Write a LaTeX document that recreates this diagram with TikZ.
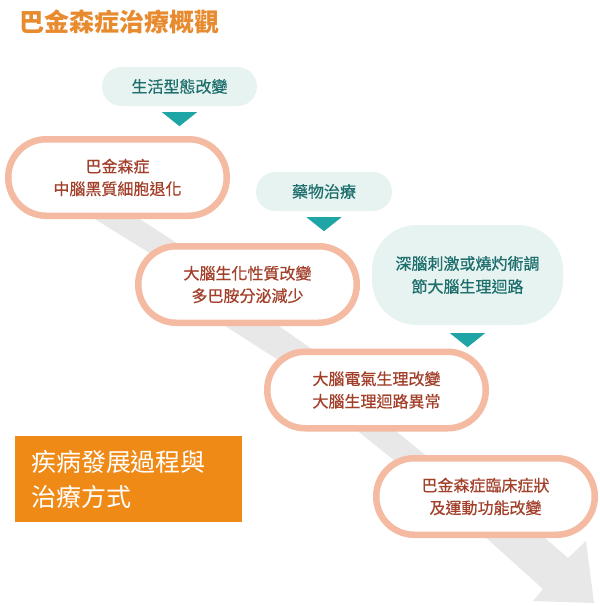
\documentclass[tikz,border=0pt]{standalone}
\usepackage{fontspec}
\setmainfont{Noto Sans CJK TC}
\newfontfamily\heavycjk[FakeBold=0.6]{Noto Sans CJK TC}
\definecolor{salmon}{HTML}{F4BBA2}
\definecolor{brick}{HTML}{A3402B}
\definecolor{mint}{HTML}{E7F3F0}
\definecolor{tealtext}{HTML}{1D6E6C}
\definecolor{tealmark}{HTML}{1FA5A6}
\definecolor{band}{HTML}{E8E8E8}
\definecolor{notecolor}{HTML}{EF8A17}
\definecolor{titlecolor}{HTML}{E88A2E}
\tikzset{
    stagebox/.style={draw=salmon, line width=6.5pt, fill=white, rounded corners=38pt,
        minimum width=218.5pt, minimum height=76.5pt, inner sep=0pt, align=center,
        text=brick, font=\heavycjk\fontsize{16}{22.5}\selectfont},
    therapybox/.style={fill=mint, rounded corners=19.5pt, minimum height=39pt,
        inner sep=0pt, align=center, text=tealtext, font=\heavycjk\fontsize{16}{23}\selectfont},
    pointer/.style={fill=tealmark},
}
\begin{document}
\begin{tikzpicture}[x=1pt, y=-1pt]
    \useasboundingbox[fill=white] (0, 0) rectangle (600, 606);

    % gray course band, behind the stages
    \fill[band](72, 205) -- (169, 265) -- (211, 265) -- (118, 205) -- cycle;
    \fill[band](208, 315) -- (294, 370) -- (342, 370) -- (263, 315) -- cycle;
    \fill[band](344, 420) -- (406, 470) -- (444, 470) -- (382, 420) -- cycle;
    \fill[band](472, 525) -- (543, 589) -- (533, 601) -- (594, 603) -- (586, 541) -- (568, 558) -- (530, 525) -- cycle;

    \node[anchor=west, inner sep=0pt, text=titlecolor, font=\fontsize{25}{30}\selectfont\bfseries] (title) at(19, 22){巴金森症治療概觀};

    % stages
    \node[stagebox] (onset) at(117.5, 177.5){巴金森症\\中腦黑質細胞退化};
    \node[stagebox] (chem) at(247.5, 284.5){大腦生化性質改變\\多巴胺分泌減少};
    \node[stagebox] (circuit) at(376.5, 390){大腦電氣生理改變\\大腦生理迴路異常};
    \node[stagebox] (motor) at(485.5, 496.5){巴金森症臨床症狀\\及運動功能改變};

    % treatments
    \node[therapybox, minimum width=155pt] (life) at(179.5, 86.5){生活型態改變};
    \node[therapybox, minimum width=136pt] (drug) at(324, 191.5){藥物治療};
    \node[therapybox, minimum width=191pt, minimum height=100pt, rounded corners=45pt] (surgery) at(467.5, 275){深腦刺激或燒灼術調\\節大腦生理迴路};

    \fill[pointer]([shift={(-17.5, 6)}]life.south) -- ++(35, 0) -- ++(-17.5, 14) -- cycle;
    \fill[pointer]([shift={(-17.5, 6)}]drug.south) -- ++(35, 0) -- ++(-17.5, 14) -- cycle;
    \fill[pointer]([shift={(-17.5, 8)}]surgery.south) -- ++(35, 0) -- ++(-17.5, 14) -- cycle;

    \node[fill=notecolor, text=white, text width=195pt, align=left, inner xsep=16pt, inner ysep=0pt,
        minimum height=86pt, font=\fontsize{25}{35}\selectfont] (course) at(128.5, 479){疾病發展過程與\\治療方式};

\end{tikzpicture}
\end{document}
